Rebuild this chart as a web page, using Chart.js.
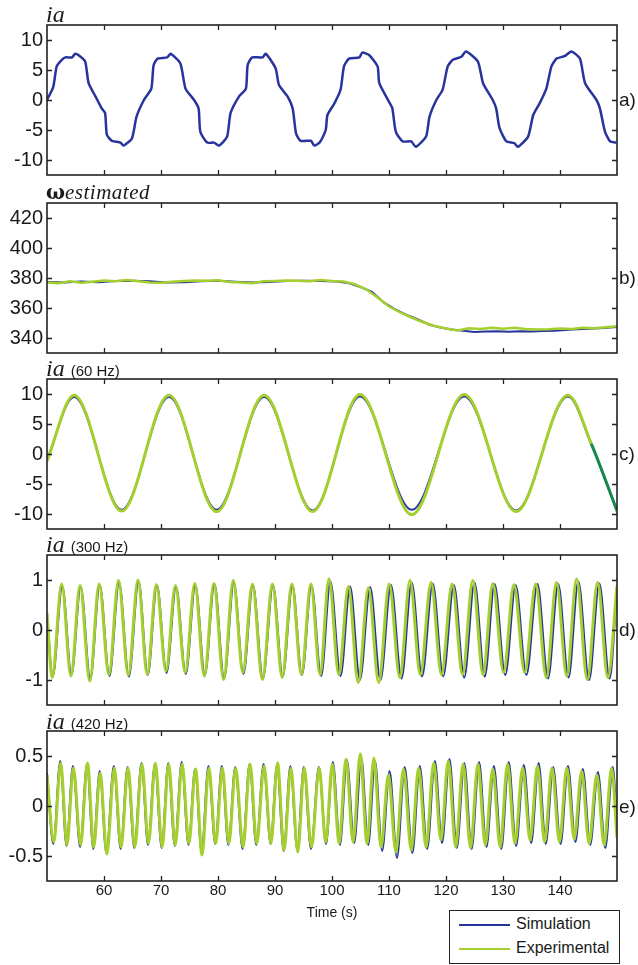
<!DOCTYPE html>
<html lang="en">
<head>
<meta charset="UTF-8">
<title>ia / omega estimated</title>
<script src="https://cdn.jsdelivr.net/npm/chart.js@4/dist/chart.umd.min.js"></script>
<style>
  body { margin: 0; background: #fff; width: 638px; height: 965px; position: relative; overflow: hidden;
         font-family: "Liberation Sans", Arial, sans-serif; color: #1a1a1a; }
  canvas { position: absolute; left: 0; }
  .ttl { position: absolute; left: 46px; height: 24px; line-height: 24px; white-space: nowrap; }
  .ttl i { font-family: "Liberation Serif", serif; font-size: 24px; }
  .ttl .om { font-family: "DejaVu Serif", serif; font-weight: bold; font-size: 20px; }
  .ttl .est { font-size: 21px; letter-spacing: 0.5px; }
  .ttl .hz { font-size: 15px; margin-left: 6px; }
  .tag { position: absolute; left: 619px; font-size: 19px; line-height: 20px; }
  #legend { position: absolute; left: 449px; top: 910px; width: 169px; height: 52px;
            border: 1.5px solid #222; background: #fff; font-size: 16px; z-index: 2; }
  #legend .row { position: absolute; left: 9px; height: 20px; line-height: 20px; }
  #legend .sw { display: inline-block; width: 51px; height: 2px; vertical-align: middle; margin-right: 6px; }
</style>
</head>
<body>
<canvas id="pa" width="638" height="152" style="top:24px"></canvas>
<canvas id="pb" width="638" height="152" style="top:202px"></canvas>
<canvas id="pc" width="638" height="152" style="top:378px"></canvas>
<canvas id="pd" width="638" height="152" style="top:554px"></canvas>
<canvas id="pe" width="638" height="235" style="top:730px"></canvas>

<div class="ttl" style="top:2px"><i>ia</i></div>
<div class="ttl" style="top:180px"><span class="om">ω</span><i class="est">estimated</i></div>
<div class="ttl" style="top:356px"><i>ia</i><span class="hz">(60 Hz)</span></div>
<div class="ttl" style="top:532px"><i>ia</i><span class="hz">(300 Hz)</span></div>
<div class="ttl" style="top:709px"><i>ia</i><span class="hz">(420 Hz)</span></div>

<div class="tag" style="top:90px">a)</div>
<div class="tag" style="top:268px">b)</div>
<div class="tag" style="top:444px">c)</div>
<div class="tag" style="top:620px">d)</div>
<div class="tag" style="top:797px">e)</div>

<div id="legend">
  <div class="row" style="top:3px"><span class="sw" style="background:#26349c"></span>Simulation</div>
  <div class="row" style="top:27px"><span class="sw" style="background:#a4cf2f"></span>Experimental</div>
</div>

<script>
// x axis (time, s)
const xTicks = [60, 70, 80, 90, 100, 110, 120, 130, 140];

// a) ia, simulation only
const aTime = [50, 51.1, 51.7, 52.6, 53.2, 54.4, 54.9, 55.5, 56.7, 57.3,
  58.5, 59.6, 60.2, 60.5, 61.4, 62.9, 63.4, 64.9, 65.7, 67,
  68.3, 68.7, 69.4, 71.1, 71.7, 73.4, 74.3, 75.8, 76.6, 76.9,
  78.1, 79.3, 80.2, 81.6, 82.2, 83.7, 84.9, 85.2, 86.0, 87.8,
  88.4, 90.1, 90.7, 92.2, 93.1, 93.7, 94.5, 96.3, 96.9, 97.9,
  98.9, 99.2, 100.4, 101.5, 102.1, 103, 104.8, 105.3, 106.5, 108,
  108.3, 110.3, 110.6, 111.2, 112.4, 113.9, 114.7, 116.5, 117.1, 118.3,
  119.4, 120.3, 121.2, 122.7, 123.5, 125.6, 126.5, 128.2, 128.8, 129.4,
  130.6, 132, 132.6, 134.4, 135.3, 136.4, 137.6, 138.5, 139.4, 140.8,
  142, 143.5, 144.4, 146.4, 147, 147.9, 148.8, 149.9];
const aSim = [0, 2.2, 5.6, 6.7, 7.1, 7.1, 7.7, 7.5, 6.4, 2.8,
  0.6, -1.4, -2.2, -5.8, -6.8, -7.1, -7.6, -6.4, -2.8, 0,
  1.9, 5.8, 6.9, 7.1, 7.7, 6.1, 1.9, 0, -1.4, -5.3,
  -7.1, -7.1, -7.6, -6.1, -2.2, 0.6, 1.9, 5.8, 7.1, 7.1,
  7.7, 5.3, 2.5, 0.6, -1.4, -5.6, -6.8, -6.8, -7.6, -7.0,
  -5.0, -2.5, -0.6, 1.7, 5.6, 6.9, 7.1, 7.9, 7.5, 5.6,
  2.8, -0.8, -1.4, -5.3, -6.9, -6.9, -7.8, -6.1, -2.8, 0,
  1.7, 5.6, 6.7, 7.2, 8.1, 6.4, 2.8, 0, -1.4, -4.7,
  -6.9, -7.2, -7.8, -6.1, -2.5, -0.6, 1.9, 5.6, 6.9, 7.3,
  8.1, 6.9, 2.8, 0, -1.4, -5.3, -6.9, -7.1];
const aTicks = [-10, -5, 0, 5, 10];

// b) omega estimated
const bSimTime = [50, 53, 56, 59, 62, 65, 68, 71, 74, 77, 80, 83, 86, 89, 92, 95, 98, 101, 103, 105,
  107, 109, 111, 113, 115, 117, 119, 121, 123, 125, 127, 129, 131, 133, 135, 137, 139, 141, 143, 145, 147, 150];
const bSim = [377.3, 377.0, 377.6, 377.2, 378.0, 378.2, 377.8, 377.0, 377.2, 377.9, 378.2, 377.5, 377.0, 377.3,
  378.0, 378.1, 378.0, 377.6, 376.5, 374.0, 370.8, 364.0, 359.3, 355.5, 352.5, 349.0, 347.0, 345.6, 344.8, 344.0,
  344.3, 344.5, 344.2, 344.5, 344.3, 344.6, 344.8, 345.3, 345.8, 346.2, 346.5, 347.3];
const bExpTime = [50, 52, 54, 56, 58, 60, 62, 64, 66, 68, 70, 72, 74, 76, 78, 80, 82, 84, 86, 88,
  90, 92, 94, 96, 98, 100, 102, 104, 106, 108, 110, 112, 114, 116, 118, 120, 122, 124, 126, 128,
  130, 132, 134, 136, 138, 140, 142, 144, 146, 148, 150];
const bExp = [377.0, 376.5, 377.8, 376.8, 377.5, 378.3, 377.9, 378.6, 377.8, 377.0,
  376.8, 377.5, 378.0, 378.4, 378.1, 378.5, 377.3, 377.0, 376.5, 377.8,
  378.0, 378.3, 378.2, 377.9, 378.6, 378.0, 377.6, 375.8, 372.5, 367.0,
  361.0, 357.0, 353.5, 350.5, 348.0, 346.3, 345.0, 346.5, 346.0, 346.8,
  346.2, 346.9, 346.0, 345.6, 345.8, 346.3, 346.0, 346.8, 346.5, 347.2, 347.8];
const bTicks = [340, 360, 380, 400, 420];

// c) ia (60 Hz): peaks and troughs
const cTime = [50, 54.75, 63.1, 71.4, 79.75, 88.1, 96.6, 104.9, 114.0, 123.2, 132.3, 141.4, 145.5, 150];
const cSim = [-0.9, 9.5, -9.3, 9.5, -9.3, 9.5, -9.4, 9.6, -9.3, 9.6, -9.4, 9.6, 1.6, -9.4];
const cExp = [-1.2, 9.8, -9.5, 9.8, -9.6, 9.8, -9.6, 9.9, -10.1, 9.9, -9.6, 9.8, 1.7, -9.5];
const cTicks = [-10, -5, 0, 5, 10];

// d) ia (300 Hz): peaks and troughs
const dExpTime = [50, 50.9, 52.58, 54.2, 55.81, 57.5, 59.15, 60.85, 62.55, 64.26,
  65.97, 67.58, 69.19, 70.87, 72.54, 74.24, 75.93, 77.6, 79.28, 80.98,
  82.68, 84.36, 86.03, 87.79, 89.55, 91.26, 92.96, 94.63, 96.30, 97.9,
  99.47, 101.2, 102.87, 104.6, 106.39, 108.2, 110.04, 111.9, 113.68, 115.5,
  117.38, 119.2, 121.08, 122.9, 124.70, 126.5, 128.22, 130.1, 131.92, 133.8,
  135.74, 137.6, 139.38, 141.2, 142.91, 144.8, 146.60, 148.4, 150];
const dExp = [0.35, -0.95, 0.92, -0.92, 0.89, -1.02, 0.92, -0.89, 0.99, -0.9,
  1.0, -0.89, 0.91, -0.82, 0.89, -0.85, 0.93, -0.92, 0.93, -0.99,
  0.99, -0.85, 0.92, -0.99, 0.92, -0.95, 0.92, -0.89, 0.92, -0.89,
  1.02, -0.89, 0.87, -1.05, 0.84, -1.05, 0.92, -0.95, 0.99, -0.89,
  0.95, -0.89, 0.92, -0.89, 0.99, -0.89, 0.93, -0.85, 0.91, -0.85,
  0.92, -0.95, 0.95, -0.92, 1.02, -0.99, 0.95, -0.95, 0.88];
const dSimTime = [50, 51.0, 52.68, 54.3, 55.91, 57.6, 59.25, 60.95, 62.65, 64.36,
  66.07, 67.68, 69.29, 70.97, 72.64, 74.34, 76.03, 77.7, 79.38, 81.08,
  82.78, 84.46, 86.13, 87.89, 89.65, 91.36, 93.06, 94.73, 96.40, 98.1,
  99.72, 101.5, 103.17, 104.9, 106.69, 108.5, 110.34, 112.2, 113.98, 115.8,
  117.68, 119.5, 121.38, 123.2, 125.0, 126.8, 128.52, 130.4, 132.22, 134.1,
  136.04, 137.9, 139.68, 141.5, 143.21, 145.1, 146.9, 148.7, 150];
const dSim = [0.3, -0.93, 0.88, -0.9, 0.87, -0.98, 0.9, -0.92, 0.95, -0.93,
  0.97, -0.9, 0.9, -0.86, 0.87, -0.88, 0.9, -0.9, 0.92, -0.97,
  0.95, -0.88, 0.9, -0.97, 0.9, -0.93, 0.9, -0.9, 0.9, -0.92,
  0.97, -0.92, 0.87, -1.0, 0.86, -1.0, 0.9, -0.97, 0.95, -0.93,
  0.93, -0.93, 0.9, -0.95, 0.95, -0.93, 0.92, -0.9, 0.9, -0.9,
  0.92, -0.97, 0.92, -0.95, 0.97, -1.0, 0.93, -0.97, 0.85];
const dTicks = [-1, 0, 1];

// e) ia (420 Hz): peaks and troughs
const eExpTime = [50, 51.2, 52.41, 53.5, 54.63, 55.9, 57.10, 58.2, 59.33, 60.5,
  61.80, 63.0, 64.21, 65.4, 66.67, 67.8, 69.01, 70.2, 71.35, 72.5,
  73.71, 74.9, 76.06, 77.2, 78.40, 79.6, 80.76, 81.9, 83.10, 84.4,
  85.62, 86.8, 88.08, 89.3, 90.44, 91.6, 92.78, 94.0, 95.12, 96.4,
  97.76, 98.9, 100.05, 101.25, 102.45, 103.7, 104.95, 106.15, 107.35, 108.6,
  109.9, 111.2, 112.55, 113.9, 115.2, 116.5, 117.85, 119.1, 120.4, 121.7,
  123.0, 124.3, 125.6, 126.9, 128.2, 129.5, 130.8, 132.1, 133.45, 134.75,
  136.05, 137.3, 138.6, 139.9, 141.2, 142.5, 143.8, 145.1, 146.45, 147.75,
  149.05, 150];
const eExp = [0.31, -0.36, 0.43, -0.39, 0.38, -0.39, 0.43, -0.41, 0.33, -0.48,
  0.38, -0.41, 0.38, -0.41, 0.42, -0.375, 0.43, -0.41, 0.42, -0.39,
  0.42, -0.375, 0.37, -0.49, 0.38, -0.375, 0.38, -0.375, 0.38, -0.41,
  0.42, -0.375, 0.40, -0.375, 0.43, -0.44, 0.38, -0.46, 0.38, -0.41,
  0.38, -0.36, 0.42, -0.375, 0.47, -0.36, 0.52, -0.375, 0.48, -0.41,
  0.31, -0.46, 0.37, -0.44, 0.38, -0.41, 0.43, -0.34, 0.45, -0.41,
  0.42, -0.42, 0.42, -0.39, 0.37, -0.41, 0.42, -0.375, 0.38, -0.34,
  0.40, -0.36, 0.38, -0.36, 0.38, -0.33, 0.35, -0.375, 0.31, -0.39,
  0.38, -0.32];
const eSimTime = [50, 51.12, 52.33, 53.42, 54.55, 55.82, 57.02, 58.12, 59.25, 60.42,
  61.72, 62.92, 64.13, 65.32, 66.59, 67.72, 68.93, 70.12, 71.27, 72.42,
  73.63, 74.82, 75.98, 77.12, 78.32, 79.52, 80.68, 81.82, 83.02, 84.32,
  85.54, 86.72, 88.0, 89.22, 90.36, 91.52, 92.7, 93.92, 95.04, 96.32,
  97.7, 98.95, 100.15, 101.4, 102.6, 103.9, 105.15, 106.35, 107.55, 108.8,
  110.1, 111.4, 112.75, 114.1, 115.4, 116.7, 118.05, 119.3, 120.6, 121.9,
  123.2, 124.5, 125.8, 127.1, 128.4, 129.7, 131.0, 132.3, 133.65, 134.95,
  136.25, 137.5, 138.8, 140.1, 141.4, 142.7, 144.0, 145.3, 146.65, 147.95,
  149.25, 150];
const eSim = [0.33, -0.38, 0.45, -0.4, 0.4, -0.41, 0.42, -0.43, 0.35, -0.47,
  0.4, -0.43, 0.39, -0.42, 0.43, -0.39, 0.42, -0.42, 0.43, -0.4,
  0.44, -0.39, 0.37, -0.46, 0.4, -0.38, 0.4, -0.39, 0.39, -0.43,
  0.42, -0.39, 0.42, -0.38, 0.41, -0.45, 0.4, -0.44, 0.39, -0.43,
  0.39, -0.38, 0.44, -0.39, 0.46, -0.37, 0.48, -0.39, 0.45, -0.45,
  0.35, -0.52, 0.39, -0.47, 0.4, -0.43, 0.45, -0.37, 0.47, -0.42,
  0.43, -0.43, 0.44, -0.41, 0.4, -0.43, 0.44, -0.4, 0.41, -0.37,
  0.43, -0.38, 0.39, -0.38, 0.4, -0.36, 0.37, -0.39, 0.34, -0.42,
  0.39, -0.2];
const eTicks = [-0.5, 0, 0.5];

const blue = '#26349c';
const green = '#a4cf2f';
const darkGreen = '#17894c';
const ink = '#1a1a1a';
const tickFont = "'Liberation Sans', Arial, sans-serif";

function pts(ts, vs) {
  return ts.map((t, i) => ({ x: t, y: vs[i] }));
}

// matlab style box with inward ticks on all four sides
const boxPlugin = {
  id: 'box',
  afterDatasetsDraw(chart) {
    const { ctx, chartArea: a, scales: { x, y } } = chart;
    ctx.save();
    ctx.strokeStyle = '#222';
    ctx.lineWidth = 1.3;
    ctx.beginPath();
    xTicks.forEach(v => {
      const px = Math.round(x.getPixelForValue(v)) + 0.5;
      ctx.moveTo(px, a.top); ctx.lineTo(px, a.top + 5);
      ctx.moveTo(px, a.bottom); ctx.lineTo(px, a.bottom - 5);
    });
    y.ticks.forEach(t => {
      const py = Math.round(y.getPixelForValue(t.value)) + 0.5;
      ctx.moveTo(a.left, py); ctx.lineTo(a.left + 5, py);
      ctx.moveTo(a.right, py); ctx.lineTo(a.right - 5, py);
    });
    ctx.stroke();
    ctx.lineWidth = 1.6;
    ctx.strokeRect(a.left, a.top, a.right - a.left, a.bottom - a.top);
    ctx.restore();
  }
};

function line(data, color, width, order, extra) {
  return Object.assign({
    data: data,
    borderColor: color,
    borderWidth: width,
    pointRadius: 0,
    fill: false,
    order: order,
    cubicInterpolationMode: 'monotone'
  }, extra || {});
}

// keep the plot box exactly where the padding puts it (no room made for edge labels)
function noEdgePad(s) {
  s.paddingTop = 0; s.paddingBottom = 0; s.paddingLeft = 0; s.paddingRight = 0;
}

function panel(id, yMin, yMax, yTicks, datasets, showX) {
  const xScale = {
    type: 'linear', min: 50, max: 150, display: showX,
    grid: { display: false, drawTicks: false }, border: { display: false },
    afterBuildTicks: s => { s.ticks = xTicks.map(v => ({ value: v })); },
    afterFit: s => { noEdgePad(s); if (showX) s.height = 41; },
    ticks: { font: { size: 15, family: tickFont }, color: ink, padding: 1, maxRotation: 0 },
    title: { display: true, text: 'Time (s)', font: { size: 14, family: tickFont }, color: ink, padding: 0 }
  };

  return new Chart(document.getElementById(id), {
    type: 'line',
    data: { datasets: datasets },
    options: {
      responsive: false,
      animation: false,
      layout: { padding: { top: 1, right: 21, bottom: showX ? 43 : 1, left: 0 } },
      plugins: { legend: { display: false }, tooltip: { enabled: false } },
      scales: {
        x: xScale,
        y: {
          min: yMin, max: yMax,
          grid: { display: false, drawTicks: false }, border: { display: false },
          afterBuildTicks: s => { s.ticks = yTicks.map(v => ({ value: v })); },
          afterFit: s => { noEdgePad(s); s.width = 47; },
          ticks: { font: { size: 20, family: tickFont }, color: ink, padding: 4 }
        }
      }
    },
    plugins: [boxPlugin]
  });
}

panel('pa', -12.5, 12.5, aTicks, [
  line(pts(aTime, aSim), blue, 2.5, 1, { tension: 0.2, cubicInterpolationMode: 'default' })
], false);

panel('pb', 330, 430, bTicks, [
  line(pts(bExpTime, bExp), green, 2.5, 0, { tension: 0, cubicInterpolationMode: 'default' }),
  line(pts(bSimTime, bSim), blue, 2, 1, { tension: 0, cubicInterpolationMode: 'default' })
], false);

panel('pc', -12.5, 12.5, cTicks, [
  line(pts(cTime, cExp), green, 3, 0, {
    segment: { borderColor: ctx => ctx.p0.parsed.x >= 145.5 ? darkGreen : undefined }
  }),
  line(pts(cTime, cSim), blue, 2, 1)
], false);

panel('pd', -1.5, 1.5, dTicks, [
  line(pts(dExpTime, dExp), green, 3, 0),
  line(pts(dSimTime, dSim), blue, 2, 1)
], false);

panel('pe', -0.75, 0.75, eTicks, [
  line(pts(eExpTime, eExp), green, 3, 0),
  line(pts(eSimTime, eSim), blue, 2, 1)
], true);
</script>
</body>
</html>
